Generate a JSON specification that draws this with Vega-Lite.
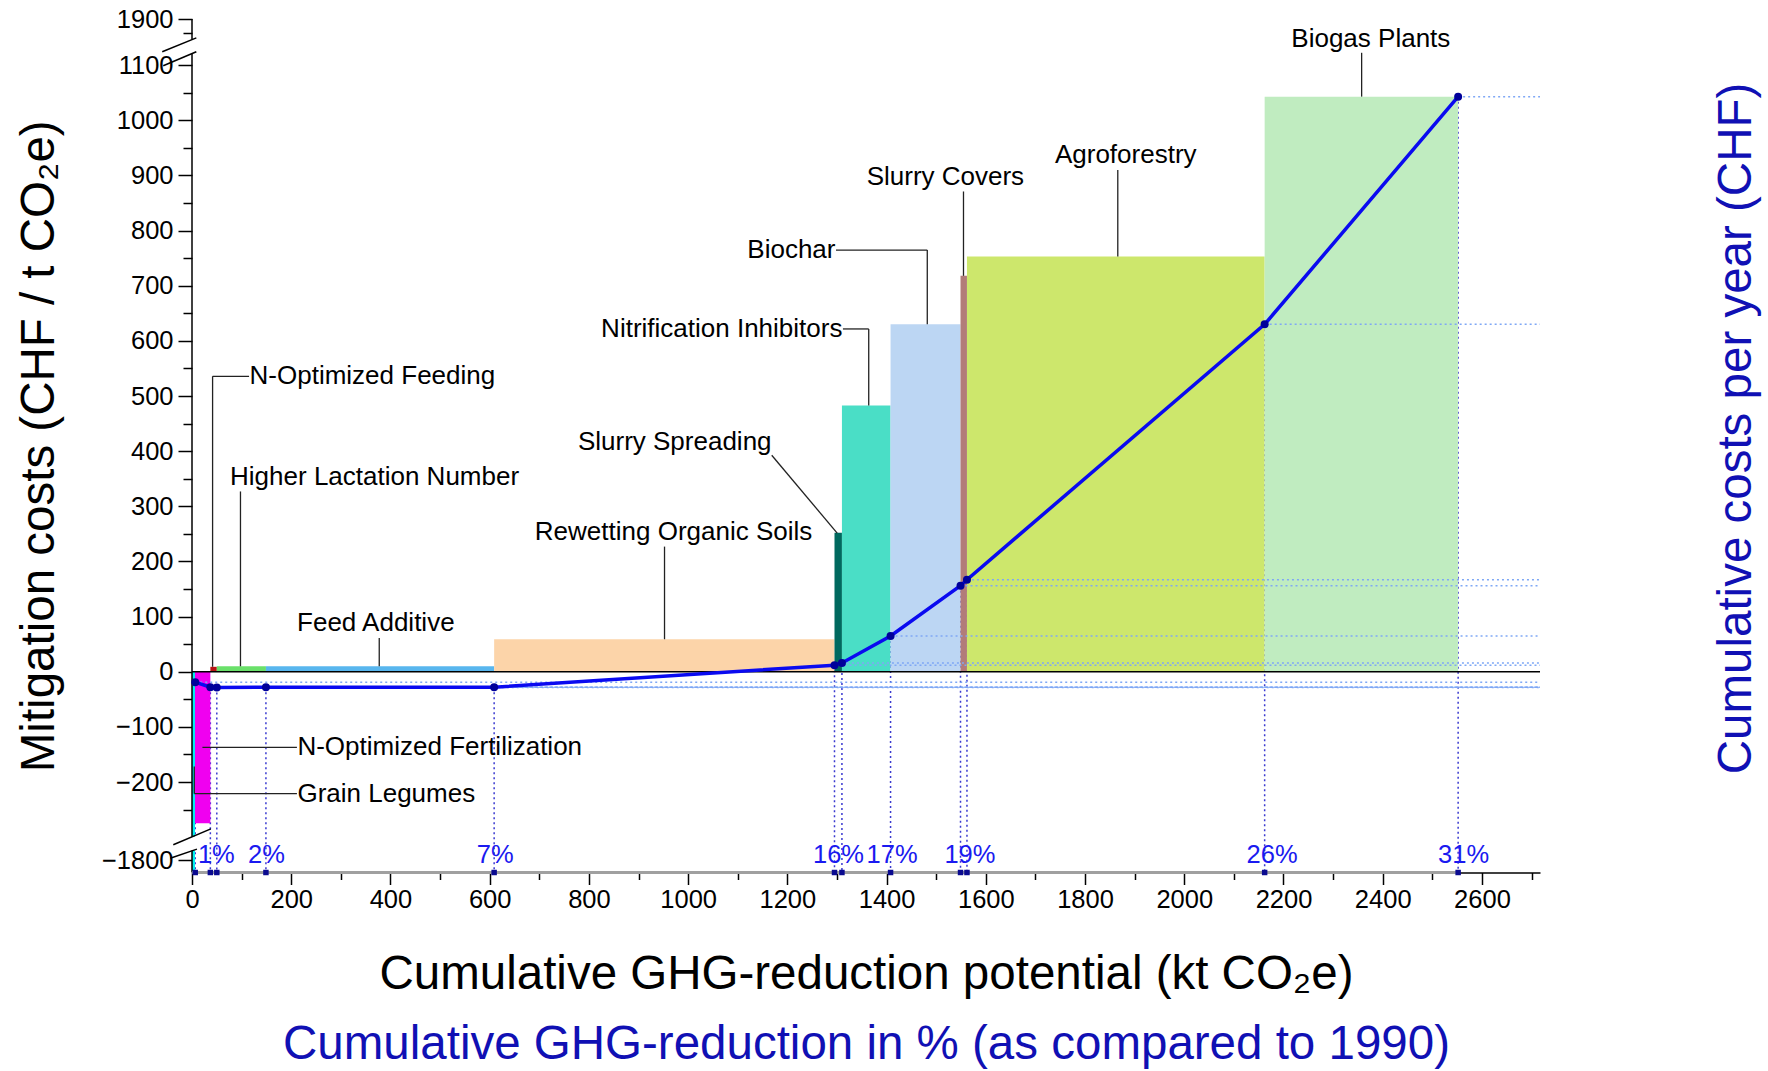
{
  "$schema": "https://vega.github.io/schema/vega-lite/v6.json",
  "width": 1348,
  "height": 853.5,
  "autosize": {"type": "none"},
  "padding": {"left": 192, "top": 19, "right": 228, "bottom": 198.5},
  "background": "white",
  "config": {"view": {"stroke": null}, "font": "Liberation Sans", "axis": {"grid": false}},
  "datasets": {
    "bars": [
      {"name": "Grain Legumes", "x0": 0, "x1": 6, "cost": -1820},
      {"name": "N-Optimized Fertilization", "x0": 6, "x1": 37, "cost": -274.5},
      {"name": "N-Optimized Feeding", "x0": 37, "x1": 50, "cost": 9},
      {"name": "Higher Lactation Number", "x0": 50, "x1": 149, "cost": 10},
      {"name": "Feed Additive", "x0": 149, "x1": 609, "cost": 10},
      {"name": "Rewetting Organic Soils", "x0": 609, "x1": 1295, "cost": 59},
      {"name": "Slurry Spreading", "x0": 1295, "x1": 1310, "cost": 252},
      {"name": "Nitrification Inhibitors", "x0": 1310, "x1": 1408, "cost": 483},
      {"name": "Biochar", "x0": 1408, "x1": 1549, "cost": 630},
      {"name": "Slurry Covers", "x0": 1549, "x1": 1562, "cost": 718},
      {"name": "Agroforestry", "x0": 1562, "x1": 2162, "cost": 753},
      {"name": "Biogas Plants", "x0": 2162, "x1": 2552, "cost": 1043}
    ],
    "pts": [
      {"x": 6.5, "y": -18.8}, {"x": 37, "y": -28}, {"x": 50, "y": -28.5}, {"x": 149, "y": -28},
      {"x": 609, "y": -28}, {"x": 1295, "y": 12}, {"x": 1310, "y": 16}, {"x": 1408, "y": 65},
      {"x": 1549, "y": 156}, {"x": 1562, "y": 167}, {"x": 2162, "y": 630}, {"x": 2552, "y": 1043}
    ],
    "pct": [
      {"p": "1%", "x": 49}, {"p": "2%", "x": 150}, {"p": "7%", "x": 611}, {"p": "16%", "x": 1303},
      {"p": "17%", "x": 1411}, {"p": "19%", "x": 1568}, {"p": "26%", "x": 2177}, {"p": "31%", "x": 2563}
    ],
    "annC": [
      {"t": "Biogas Plants", "x": 2376, "y": 1548},
      {"t": "Agroforestry", "x": 1882, "y": 936.5},
      {"t": "Slurry Covers", "x": 1518.5, "y": 897.7},
      {"t": "Slurry Spreading", "x": 973, "y": 417},
      {"t": "Rewetting Organic Soils", "x": 970.6, "y": 253.5},
      {"t": "Feed Additive", "x": 370.5, "y": 88},
      {"t": "Higher Lactation Number", "x": 368, "y": 353.7}
    ],
    "annL": [
      {"t": "N-Optimized Feeding", "x": 116, "y": 535.7},
      {"t": "N-Optimized Fertilization", "x": 212.5, "y": -137},
      {"t": "Grain Legumes", "x": 212.5, "y": -221}
    ],
    "annR": [
      {"t": "Biochar", "x": 1297, "y": 764.8},
      {"t": "Nitrification Inhibitors", "x": 1311, "y": 621.7}
    ],
    "leaders": [
      {"x": 2357.5, "y": 1315, "x2": 2357.5, "y2": 1043},
      {"x": 1866, "y": 910, "x2": 1866, "y2": 753},
      {"x": 1555, "y": 871, "x2": 1555, "y2": 718},
      {"x": 1298, "y": 764.8, "x2": 1482, "y2": 764.8},
      {"x": 1482, "y": 764.8, "x2": 1482, "y2": 630},
      {"x": 1312, "y": 621.7, "x2": 1364, "y2": 621.7},
      {"x": 1364, "y": 621.7, "x2": 1364, "y2": 483},
      {"x": 1168.5, "y": 392.6, "x2": 1300.4, "y2": 251.5},
      {"x": 952.4, "y": 227, "x2": 952.4, "y2": 59},
      {"x": 377.4, "y": 61.3, "x2": 377.4, "y2": 10},
      {"x": 97.7, "y": 327, "x2": 97.7, "y2": 10},
      {"x": 115, "y": 535.7, "x2": 41.5, "y2": 535.7},
      {"x": 41.5, "y": 535.7, "x2": 41.5, "y2": 9},
      {"x": 21, "y": -137, "x2": 211.5, "y2": -137},
      {"x": 4.6, "y": -221, "x2": 211.5, "y2": -221},
      {"x": 4.6, "y": -172, "x2": 4.6, "y2": -221}
    ],
    "breaks": [
      {"x": 0, "y": 1547, "x2": 0, "y2": 1900},
      {"x": 0, "y": -299, "x2": 0, "y2": 1304},
      {"x": 0, "y": -1822, "x2": 0, "y2": -1782},
      {"x": -60, "y": 1332, "x2": 8.7, "y2": 1574},
      {"x": -58, "y": 1099, "x2": 8.7, "y2": 1332},
      {"x": -37.7, "y": -1186, "x2": 38, "y2": -285},
      {"x": -43.8, "y": -1796, "x2": 10, "y2": -1688}
    ],
    "gap": [{"x": 3, "y": -299, "y2": -1782}],
    "one": [{}]
  },
  "layer": [
    {
      "data": {"name": "pts"},
      "mark": {"type": "rule", "color": "#3A3AD0", "strokeDash": [2, 3], "strokeWidth": 1.5},
      "encoding": {
        "x": {"field": "x", "type": "quantitative", "scale": {"domain": [0, 2717], "nice": false, "zero": false}, "axis": null},
        "y": {"field": "y", "type": "quantitative", "scale": {"domain": [-1822, -1781, -300, 1100, 1900], "range": [853.5, 830.9, 818.2, 46.2, 0], "nice": false, "zero": false}, "axis": null},
        "y2": {"datum": -1822}
      }
    },
    {
      "data": {"name": "bars"},
      "mark": {"type": "rect"},
      "encoding": {
        "x": {"field": "x0", "type": "quantitative", "scale": {"domain": [0, 2717], "nice": false, "zero": false},
          "axis": {"orient": "bottom", "values": [0,100,200,300,400,500,600,700,800,900,1000,1100,1200,1300,1400,1500,1600,1700,1800,1900,2000,2100,2200,2300,2400,2500,2600,2700],
            "format": "d", "labelExpr": "datum.value % 200 === 0 ? datum.label : ''",
            "tickSize": {"condition": {"test": "datum.value % 200 === 0", "value": 12}, "value": 7},
            "tickWidth": 1.5, "tickColor": "black", "domainColor": "black", "domainWidth": 1.5,
            "labelFontSize": 25.5, "labelFont": "Liberation Sans", "labelPadding": 3, "labelColor": "black", "labelFlush": false, "labelOverlap": false,
            "title": "Cumulative GHG-reduction potential (kt CO₂e)", "titleFont": "Liberation Sans", "titleFontSize": 47.5, "titleFontWeight": "normal", "titleColor": "black", "titleY": 116, "titleBaseline": "alphabetic"}},
        "x2": {"field": "x1"},
        "y": {"field": "cost", "type": "quantitative", "scale": {"domain": [-1822, -1781, -300, 1100, 1900], "range": [853.5, 830.9, 818.2, 46.2, 0], "nice": false, "zero": false},
          "axis": {"orient": "left", "values": [-1800,-250,-200,-150,-100,-50,0,50,100,150,200,250,300,350,400,450,500,550,600,650,700,750,800,850,900,950,1000,1050,1100,1650,1900],
            "format": "d", "labelExpr": "datum.value % 100 === 0 ? datum.label : ''",
            "tickSize": {"condition": {"test": "datum.value % 100 === 0", "value": 14}, "value": 9},
            "tickWidth": 1.5, "tickColor": "black", "domain": false,
            "labelFontSize": 25.5, "labelFont": "Liberation Sans", "labelPadding": 5, "labelColor": "black", "labelOverlap": false, "labelBound": false, "labelFlush": false,
            "title": "Mitigation costs (CHF / t CO₂e)", "titleFont": "Liberation Sans", "titleFontSize": 47.5, "titleFontWeight": "normal", "titleColor": "black", "titleX": -139, "titleBaseline": "alphabetic", "titleAngle": 270}},
        "y2": {"datum": 0},
        "color": {"field": "name", "type": "nominal", "legend": null,
          "scale": {"domain": ["Grain Legumes","N-Optimized Fertilization","N-Optimized Feeding","Higher Lactation Number","Feed Additive","Rewetting Organic Soils","Slurry Spreading","Nitrification Inhibitors","Biochar","Slurry Covers","Agroforestry","Biogas Plants"],
            "range": ["#00F0F0","#F000F0","#B81414","#6AE06A","#58B6EE","#FCD4A9","#00695F","#4ADEC6","#BCD6F3","#B27C79","#CDE76C","#C0ECC0"]}}
      }
    },
    {
      "data": {"name": "gap"},
      "mark": {"type": "rule", "color": "white", "strokeWidth": 7},
      "encoding": {
        "x": {"field": "x", "type": "quantitative", "scale": {"domain": [0, 2717], "nice": false, "zero": false}, "axis": null},
        "y": {"field": "y", "type": "quantitative", "scale": {"domain": [-1822, -1781, -300, 1100, 1900], "range": [853.5, 830.9, 818.2, 46.2, 0], "nice": false, "zero": false}, "axis": null},
        "y2": {"field": "y2"}
      }
    },
    {
      "data": {"name": "pts"},
      "mark": {"type": "rule", "color": "#7FA8F5", "strokeDash": [2, 3], "strokeWidth": 1.5},
      "encoding": {
        "x": {"field": "x", "type": "quantitative", "scale": {"domain": [0, 2717], "nice": false, "zero": false}, "axis": null},
        "x2": {"datum": 2717},
        "y": {"field": "y", "type": "quantitative", "scale": {"domain": [-1822, -1781, -300, 1100, 1900], "range": [853.5, 830.9, 818.2, 46.2, 0], "nice": false, "zero": false}, "axis": null}
      }
    },
    {
      "data": {"name": "one"},
      "mark": {"type": "rule", "color": "black", "strokeWidth": 1.5},
      "encoding": {
        "x": {"datum": 0, "type": "quantitative", "scale": {"domain": [0, 2717], "nice": false, "zero": false}, "axis": null},
        "x2": {"datum": 2717},
        "y": {"datum": 0, "type": "quantitative", "scale": {"domain": [-1822, -1781, -300, 1100, 1900], "range": [853.5, 830.9, 818.2, 46.2, 0], "nice": false, "zero": false}, "axis": null}
      }
    },
    {
      "data": {"name": "leaders"},
      "mark": {"type": "rule", "color": "#222222", "strokeWidth": 1.3},
      "encoding": {
        "x": {"field": "x", "type": "quantitative", "scale": {"domain": [0, 2717], "nice": false, "zero": false}, "axis": null},
        "x2": {"field": "x2"},
        "y": {"field": "y", "type": "quantitative", "scale": {"domain": [-1822, -1781, -300, 1100, 1900], "range": [853.5, 830.9, 818.2, 46.2, 0], "nice": false, "zero": false}, "axis": null},
        "y2": {"field": "y2"}
      }
    },
    {
      "data": {"name": "breaks"},
      "mark": {"type": "rule", "color": "black", "strokeWidth": 1.5},
      "encoding": {
        "x": {"field": "x", "type": "quantitative", "scale": {"domain": [0, 2717], "nice": false, "zero": false}, "axis": null},
        "x2": {"field": "x2"},
        "y": {"field": "y", "type": "quantitative", "scale": {"domain": [-1822, -1781, -300, 1100, 1900], "range": [853.5, 830.9, 818.2, 46.2, 0], "nice": false, "zero": false}, "axis": null},
        "y2": {"field": "y2"}
      }
    },
    {
      "data": {"name": "one"},
      "mark": {"type": "rule", "color": "#A0A0A0", "strokeWidth": 3},
      "encoding": {
        "x": {"datum": 0, "type": "quantitative", "scale": {"domain": [0, 2717], "nice": false, "zero": false}, "axis": null},
        "x2": {"datum": 2552},
        "y": {"datum": -1822, "type": "quantitative", "scale": {"domain": [-1822, -1781, -300, 1100, 1900], "range": [853.5, 830.9, 818.2, 46.2, 0], "nice": false, "zero": false}, "axis": null}
      }
    },
    {
      "data": {"name": "pts"},
      "mark": {"type": "point", "shape": "square", "filled": true, "size": 30, "color": "#0A0A90", "opacity": 1},
      "encoding": {
        "x": {"field": "x", "type": "quantitative", "scale": {"domain": [0, 2717], "nice": false, "zero": false}, "axis": null},
        "y": {"datum": -1822, "type": "quantitative", "scale": {"domain": [-1822, -1781, -300, 1100, 1900], "range": [853.5, 830.9, 818.2, 46.2, 0], "nice": false, "zero": false}, "axis": null}
      }
    },
    {
      "data": {"name": "pct"},
      "mark": {"type": "text", "color": "#1A1AF0", "fontSize": 25.5, "font": "Liberation Sans", "align": "center", "baseline": "alphabetic"},
      "encoding": {
        "x": {"field": "x", "type": "quantitative", "scale": {"domain": [0, 2717], "nice": false, "zero": false}, "axis": null},
        "y": {"datum": -1805, "type": "quantitative", "scale": {"domain": [-1822, -1781, -300, 1100, 1900], "range": [853.5, 830.9, 818.2, 46.2, 0], "nice": false, "zero": false}, "axis": null},
        "text": {"field": "p"}
      }
    },
    {
      "data": {"name": "annC"},
      "mark": {"type": "text", "color": "black", "fontSize": 26, "font": "Liberation Sans", "align": "center", "baseline": "middle"},
      "encoding": {
        "x": {"field": "x", "type": "quantitative", "scale": {"domain": [0, 2717], "nice": false, "zero": false}, "axis": null},
        "y": {"field": "y", "type": "quantitative", "scale": {"domain": [-1822, -1781, -300, 1100, 1900], "range": [853.5, 830.9, 818.2, 46.2, 0], "nice": false, "zero": false}, "axis": null},
        "text": {"field": "t"}
      }
    },
    {
      "data": {"name": "annL"},
      "mark": {"type": "text", "color": "black", "fontSize": 26, "font": "Liberation Sans", "align": "left", "baseline": "middle"},
      "encoding": {
        "x": {"field": "x", "type": "quantitative", "scale": {"domain": [0, 2717], "nice": false, "zero": false}, "axis": null},
        "y": {"field": "y", "type": "quantitative", "scale": {"domain": [-1822, -1781, -300, 1100, 1900], "range": [853.5, 830.9, 818.2, 46.2, 0], "nice": false, "zero": false}, "axis": null},
        "text": {"field": "t"}
      }
    },
    {
      "data": {"name": "annR"},
      "mark": {"type": "text", "color": "black", "fontSize": 26, "font": "Liberation Sans", "align": "right", "baseline": "middle"},
      "encoding": {
        "x": {"field": "x", "type": "quantitative", "scale": {"domain": [0, 2717], "nice": false, "zero": false}, "axis": null},
        "y": {"field": "y", "type": "quantitative", "scale": {"domain": [-1822, -1781, -300, 1100, 1900], "range": [853.5, 830.9, 818.2, 46.2, 0], "nice": false, "zero": false}, "axis": null},
        "text": {"field": "t"}
      }
    },
    {
      "data": {"name": "pts"},
      "mark": {"type": "line", "color": "#0A0AF0", "strokeWidth": 3.5, "point": {"filled": true, "size": 64, "color": "#00009A"}},
      "encoding": {
        "x": {"field": "x", "type": "quantitative", "scale": {"domain": [0, 2717], "nice": false, "zero": false},
          "axis": {"orient": "bottom", "labels": false, "ticks": false, "domain": false, "grid": false,
            "title": "Cumulative GHG-reduction in % (as compared to 1990)", "titleColor": "#1010B4", "titleFont": "Liberation Sans", "titleFontSize": 47.5, "titleFontWeight": "normal",
            "titleY": 186, "titleBaseline": "alphabetic"}},
        "y": {"field": "y", "type": "quantitative", "scale": {"domain": [-1822, -1781, -300, 1100, 1900], "range": [853.5, 830.9, 818.2, 46.2, 0], "nice": false, "zero": false},
          "axis": {"orient": "right", "labels": false, "ticks": false, "domain": false, "grid": false,
            "title": "Cumulative costs per year (CHF)", "titleColor": "#1010B4", "titleFont": "Liberation Sans", "titleFontSize": 47.5, "titleFontWeight": "normal",
            "titleAngle": 270, "titleBaseline": "alphabetic", "titleX": 210, "titleY": 409}}
      }
    }
  ],
  "resolve": {"axis": {"x": "independent", "y": "independent"}}
}
